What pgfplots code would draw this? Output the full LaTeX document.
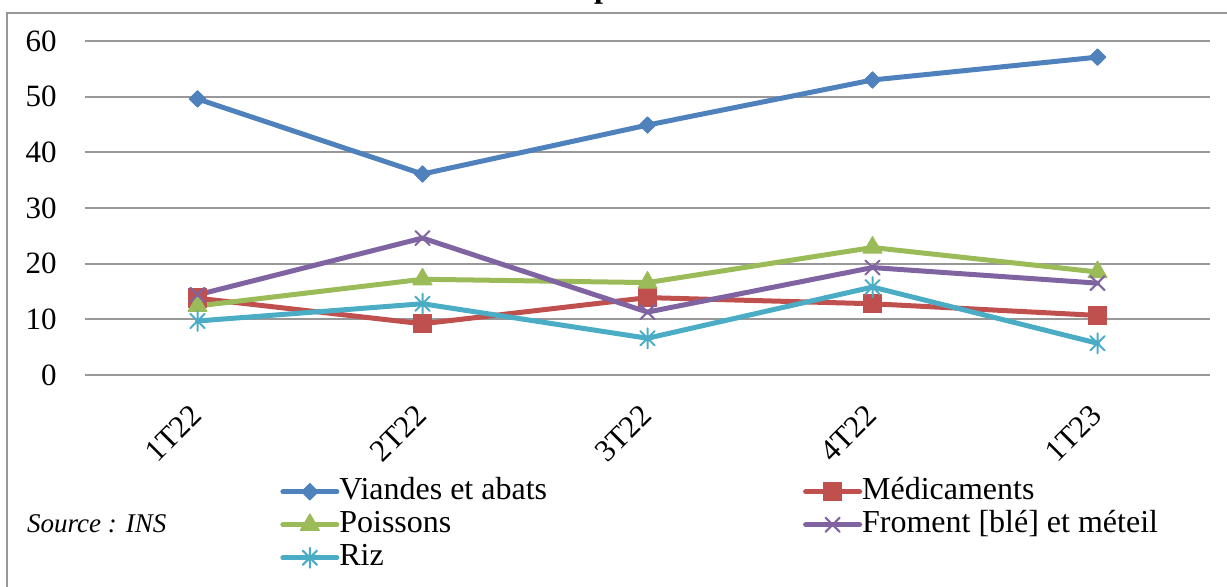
\documentclass[border=0pt]{standalone}
\usepackage{fontspec}
\setmainfont{Liberation Serif}
\usepackage{pgfplots}
\pgfplotsset{compat=1.18}

\definecolor{cBlue}{HTML}{4F81BD}
\definecolor{cRed}{HTML}{C0504D}
\definecolor{cGreen}{HTML}{9BBB59}
\definecolor{cPurple}{HTML}{8064A2}
\definecolor{cTeal}{HTML}{4BACC6}
\definecolor{cGrid}{HTML}{989898}

% Excel style star: vertical stroke plus a cross
\pgfdeclareplotmark{xlstar}{%
  \pgfpathmoveto{\pgfqpoint{0pt}{\pgfplotmarksize}}%
  \pgfpathlineto{\pgfqpoint{0pt}{-\pgfplotmarksize}}%
  \pgfpathmoveto{\pgfqpoint{0.707\pgfplotmarksize}{0.707\pgfplotmarksize}}%
  \pgfpathlineto{\pgfqpoint{-0.707\pgfplotmarksize}{-0.707\pgfplotmarksize}}%
  \pgfpathmoveto{\pgfqpoint{-0.707\pgfplotmarksize}{0.707\pgfplotmarksize}}%
  \pgfpathlineto{\pgfqpoint{0.707\pgfplotmarksize}{-0.707\pgfplotmarksize}}%
  \pgfusepathqstroke}

\begin{document}
\begin{tikzpicture}
\useasboundingbox (0pt,0pt) rectangle (613.5pt,293.5pt);

% outer frame (left and top edges visible)
\draw[cGrid, line width=1pt] (3.5pt,-2pt) -- (3.5pt,287pt) -- (620pt,287pt);
% cut-off chart title
\node[font=\bfseries\fontsize{16}{19}\selectfont, anchor=base] at (301.5pt,294.5pt) {p};

\begin{axis}[
    at={(42.5pt,106pt)}, anchor=south west,
    scale only axis,
    width=562.5pt, height=167pt,
    xmin=-0.5, xmax=4.5,
    ymin=0, ymax=60,
    xtick={0,1,2,3,4},
    xticklabels={1T22,2T22,3T22,4T22,1T23},
    ytick={0,10,20,30,40,50,60},
    ymajorgrids,
    major grid style={cGrid, line width=1pt},
    axis line style={draw=none},
    tick style={draw=none},
    /pgf/number format/assume math mode=true,
    ticklabel style={font=\fontsize{15.5}{18}\selectfont, inner sep=0pt},
    yticklabel style={anchor=east, xshift=-14pt},
    xticklabel style={xshift=-0.5pt, yshift=-17.5pt, rotate=45, anchor=east},
    clip=false,
    every axis plot/.append style={line width=2.5pt, line cap=round, line join=round},
    legend columns=2,
    legend cell align=left,
    legend image code/.code={%
      \draw[mark repeat=2,mark phase=2,#1] plot coordinates {(0pt,0pt) (13.5pt,0pt) (27pt,0pt)};},
    legend style={
      at={(0.1733,-0.299)}, anchor=north west,
      draw=none, fill=none, inner sep=0pt,
      font=\fontsize{16}{19}\selectfont,
      row sep=0pt,
      nodes={inner sep=0pt, text height=12pt, text depth=4.5pt},
      /tikz/every even column/.append style={column sep=128pt},
    },
]
\addplot[cBlue, mark=square*, mark size=2.9pt,
  mark options={rotate=45, line width=0.5pt, fill=cBlue}]
  coordinates {(0,49.6) (1,36.1) (2,44.9) (3,53.0) (4,57.1)};
\addlegendentry{Viandes et abats}

\addplot[cRed, mark=square*, mark size=4.6pt,
  mark options={line width=0.5pt, fill=cRed}]
  coordinates {(0,13.8) (1,9.2) (2,13.9) (3,12.8) (4,10.7)};
\addlegendentry{Médicaments}

\addplot[cGreen, mark=triangle*, mark size=5.5pt,
  mark options={line width=0.5pt, fill=cGreen}]
  coordinates {(0,12.4) (1,17.2) (2,16.6) (3,22.9) (4,18.5)};
\addlegendentry{Poissons}

\addplot[cPurple, mark=x, mark size=5pt,
  mark options={line width=1pt}]
  coordinates {(0,14.4) (1,24.6) (2,11.3) (3,19.3) (4,16.5)};
\addlegendentry{Froment [blé] et méteil}

\addplot[cTeal, mark=xlstar, mark size=5pt,
  mark options={line width=1pt}]
  coordinates {(0,9.7) (1,12.8) (2,6.6) (3,15.8) (4,5.7)};
\addlegendentry{Riz}
\end{axis}

\node[font=\itshape\fontsize{13.5}{16}\selectfont, anchor=west] at (10pt,31.5pt) {Source : INS};
\end{tikzpicture}
\end{document}
